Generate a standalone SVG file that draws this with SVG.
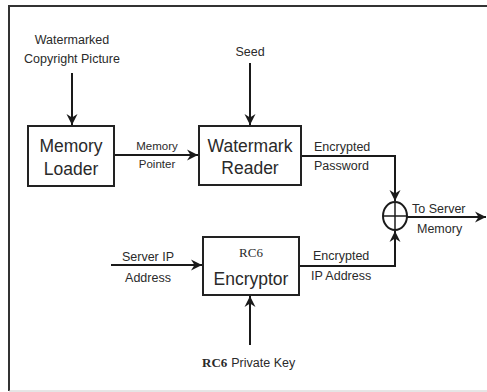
<svg xmlns="http://www.w3.org/2000/svg" width="487" height="392" viewBox="0 0 487 392">
<defs>
<marker id="ah" markerWidth="12" markerHeight="12" viewBox="0 0 12 12" refX="11" refY="6" orient="auto" markerUnits="userSpaceOnUse">
<path d="M0,0.5 L11,6 L0,11.5 L3.5,6 Z" fill="#1a1a1a"/>
</marker>
<style>
.box{fill:#fff;stroke:#222;stroke-width:2}
.ln{fill:none;stroke:#1a1a1a;stroke-width:2}
.t{font-family:"Liberation Sans",Arial,sans-serif;fill:#2a2a2a}
.s{font-size:12.5px}
.b{font-size:17.5px}
.serif{font-family:"Liberation Serif","Times New Roman",serif;fill:#2a2a2a}
</style>
</defs>
<rect width="487" height="392" fill="#fff"/>
<g id="frame">
<path d="M9,391 L9,6 L487,6" fill="none" stroke="#333" stroke-width="2"/>
<line x1="9" y1="391" x2="487" y2="391" stroke="#ccc" stroke-width="1"/>
</g>
<g id="connectors">
<line class="ln" x1="72" y1="73" x2="72" y2="125" marker-end="url(#ah)"/>
<line class="ln" x1="250" y1="63" x2="250" y2="125" marker-end="url(#ah)"/>
<line class="ln" x1="114" y1="155" x2="198" y2="155" marker-end="url(#ah)"/>
<polyline class="ln" points="301,156 395,156 395,201" marker-end="url(#ah)"/>
<line class="ln" x1="111" y1="265" x2="202" y2="265" marker-end="url(#ah)"/>
<polyline class="ln" points="299,266 395,266 395,231" marker-end="url(#ah)"/>
<line class="ln" x1="250" y1="345" x2="250" y2="296" marker-end="url(#ah)"/>
<line class="ln" x1="407" y1="217" x2="486" y2="217" marker-end="url(#ah)"/>
</g>
<g id="watermarked-picture">
<text class="t s" x="72" y="44" text-anchor="middle">Watermarked</text>
<text class="t s" x="72" y="63" text-anchor="middle">Copyright Picture</text>
</g>
<g id="seed">
<text class="t s" x="250" y="56" text-anchor="middle">Seed</text>
</g>
<g id="memory-loader">
<rect class="box" x="28" y="126" width="86" height="60"/>
<text class="t b" x="71" y="152" text-anchor="middle">Memory</text>
<text class="t b" x="71" y="175" text-anchor="middle">Loader</text>
</g>
<g id="memory-pointer">
<text class="t" font-size="11.5" x="157" y="150" text-anchor="middle">Memory</text>
<text class="t" font-size="11.5" x="157" y="168" text-anchor="middle">Pointer</text>
</g>
<g id="watermark-reader">
<rect class="box" x="199" y="126" width="102" height="59"/>
<text class="t b" x="250" y="152" text-anchor="middle">Watermark</text>
<text class="t b" x="250" y="174" text-anchor="middle">Reader</text>
</g>
<g id="encrypted-password">
<text class="t s" x="314" y="151">Encrypted</text>
<text class="t s" x="314" y="170">Password</text>
</g>
<g id="xor">
<ellipse cx="395" cy="216" rx="12" ry="14" fill="#fff" stroke="#1a1a1a" stroke-width="2"/>
<line x1="395" y1="202" x2="395" y2="230" stroke="#1a1a1a" stroke-width="1.5"/>
<line x1="383" y1="216" x2="407" y2="216" stroke="#1a1a1a" stroke-width="1.5"/>
</g>
<g id="to-server-memory">
<text class="t s" x="412" y="213">To Server</text>
<text class="t s" x="417" y="233">Memory</text>
</g>
<g id="server-ip">
<text class="t s" x="148" y="261" text-anchor="middle">Server IP</text>
<text class="t s" x="148" y="282" text-anchor="middle">Address</text>
</g>
<g id="rc6-encryptor">
<rect class="box" x="203" y="237" width="96" height="58"/>
<text class="serif" font-size="13" x="251" y="257" text-anchor="middle">RC6</text>
<text class="t b" x="251" y="285" text-anchor="middle">Encryptor</text>
</g>
<g id="encrypted-ip">
<text class="t s" x="313" y="260">Encrypted</text>
<text class="t s" x="311" y="280">IP Address</text>
</g>
<g id="private-key">
<text x="202" y="367"><tspan class="serif" font-size="13" font-weight="bold">RC6</tspan><tspan class="t" font-size="12.5" dx="4">Private Key</tspan></text>
</g>
</svg>
